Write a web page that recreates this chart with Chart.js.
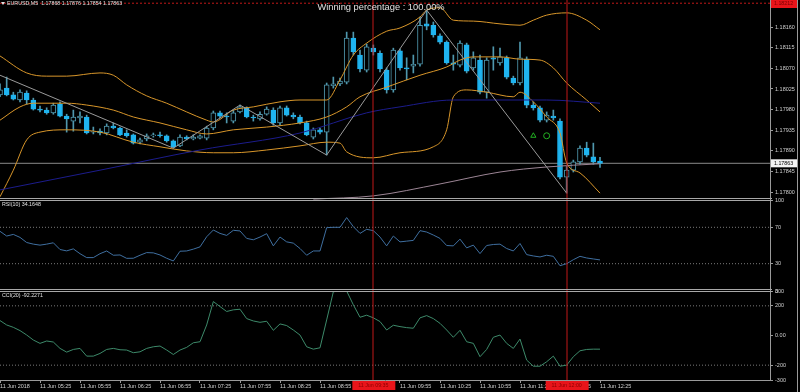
<!DOCTYPE html>
<html>
<head>
<meta charset="utf-8">
<script src="https://cdn.jsdelivr.net/npm/chart.js@4.4.0/dist/chart.umd.min.js"></script>
<style>
    html, body { margin: 0; padding: 0; background: #000; }
    #eurusdChart { display: block; }
</style>
</head>
<body>
<canvas id="eurusdChart" width="800" height="392"></canvas>
<script>
// EURUSD M5 bars, 11 Jun 2018 04:55 .. 12:25 (bar index 0..90)
const opens = [1.18012,1.18027,1.18012,1.18001,1.18016,1.18001,1.17981,1.17979,1.17973,1.17992,
    1.17966,1.17955,1.17962,1.17964,1.17931,1.17933,1.17929,1.17944,1.17940,1.17929,
    1.17925,1.17909,1.17916,1.17923,1.17925,1.17923,1.17912,1.17901,1.17920,1.17916,
    1.17918,1.17918,1.17940,1.17973,1.17966,1.17955,1.17975,1.17984,1.17964,1.17960,
    1.17970,1.17979,1.17951,1.17984,1.17968,1.17964,1.17951,1.17920,1.17936,1.17931,
    1.18032,1.18036,1.18040,1.18136,1.18099,1.18066,1.18114,1.18103,1.18066,1.18023,
    1.18108,1.18071,1.18075,1.18079,1.18167,1.18164,1.18141,1.18127,1.18082,1.18077,
    1.18121,1.18071,1.18088,1.18018,1.18093,1.18082,1.18093,1.18049,1.18038,1.18090,
    1.17990,1.17984,1.17957,1.17966,1.17955,1.17833,1.17848,1.17866,1.17896,1.17877,
    1.17868];
const highs = [1.18036,1.18051,1.18018,1.18023,1.18021,1.18005,1.17988,1.17984,1.17994,1.17997,
    1.17970,1.17979,1.17975,1.17968,1.17942,1.17938,1.17949,1.17951,1.17942,1.17936,
    1.17927,1.17918,1.17927,1.17929,1.17931,1.17925,1.17914,1.17925,1.17923,1.17925,
    1.17925,1.17944,1.17977,1.17977,1.17973,1.17979,1.17990,1.17986,1.17968,1.17975,
    1.17986,1.17984,1.17988,1.17988,1.17973,1.17968,1.17955,1.17940,1.17940,1.18038,
    1.18051,1.18049,1.18149,1.18149,1.18110,1.18123,1.18121,1.18108,1.18071,1.18114,
    1.18112,1.18093,1.18099,1.18182,1.18197,1.18171,1.18145,1.18130,1.18099,1.18130,
    1.18125,1.18106,1.18099,1.18093,1.18117,1.18114,1.18097,1.18053,1.18127,1.18095,
    1.17997,1.17988,1.17975,1.17979,1.17960,1.17857,1.17870,1.17901,1.17909,1.17907,
    1.17876];
const lows = [1.18008,1.18010,1.18001,1.17997,1.17992,1.17979,1.17975,1.17970,1.17970,1.17964,
    1.17931,1.17933,1.17951,1.17927,1.17927,1.17925,1.17925,1.17938,1.17923,1.17920,
    1.17905,1.17905,1.17912,1.17920,1.17920,1.17909,1.17896,1.17899,1.17914,1.17914,
    1.17916,1.17914,1.17936,1.17962,1.17951,1.17951,1.17973,1.17962,1.17955,1.17957,
    1.17968,1.17946,1.17946,1.17966,1.17960,1.17949,1.17923,1.17916,1.17927,1.17881,
    1.18027,1.18032,1.18036,1.18099,1.18062,1.18062,1.18099,1.18062,1.18016,1.18018,
    1.18066,1.18045,1.18060,1.18075,1.18154,1.18138,1.18123,1.18079,1.18066,1.18073,
    1.18060,1.18066,1.18014,1.18005,1.18066,1.18077,1.18047,1.18034,1.18034,1.17984,
    1.17979,1.17953,1.17953,1.17957,1.17829,1.17798,1.17844,1.17861,1.17877,1.17861,
    1.17854];
const closes = [1.18023,1.18012,1.18003,1.18018,1.18001,1.17981,1.17979,1.17973,1.17990,1.17966,
    1.17960,1.17964,1.17966,1.17929,1.17933,1.17929,1.17944,1.17940,1.17925,1.17923,
    1.17907,1.17914,1.17923,1.17925,1.17923,1.17912,1.17899,1.17920,1.17916,1.17920,
    1.17923,1.17940,1.17973,1.17966,1.17964,1.17973,1.17986,1.17964,1.17962,1.17970,
    1.17981,1.17951,1.17984,1.17968,1.17964,1.17951,1.17925,1.17936,1.17931,1.18034,
    1.18036,1.18042,1.18136,1.18106,1.18069,1.18117,1.18106,1.18069,1.18023,1.18110,
    1.18071,1.18069,1.18079,1.18164,1.18162,1.18143,1.18127,1.18082,1.18079,1.18125,
    1.18064,1.18093,1.18018,1.18088,1.18090,1.18095,1.18051,1.18038,1.18093,1.17990,
    1.17984,1.17957,1.17968,1.17962,1.17833,1.17848,1.17866,1.17896,1.17881,1.17866,
    1.17863];

// Bollinger bands at a few bars
const bbUpperBars = [0,4,7,10,15,17,19,22,25,28,31,32,35,38,42,45,49,51,53,55,58,60,63,64,66,68,71,75,78,80,82,85,88,90];
const bbUpper = [1.18097,1.18060,1.18053,1.18053,1.18060,1.18055,1.18034,1.18010,1.17994,1.17975,1.17957,1.17953,1.17979,1.17986,1.17997,1.18001,1.18001,1.18045,1.18099,1.18125,1.18151,1.18158,1.18182,1.18197,1.18202,1.18175,1.18173,1.18167,1.18164,1.18175,1.18186,1.18191,1.18175,1.18154];
const bbMiddleBars = [0,3,5,10,13,17,20,24,28,31,35,40,45,49,52,54,58,63,67,69,71,75,78,81,83,85,88,90];
const bbMiddle = [1.17957,1.17986,1.17994,1.17994,1.17990,1.17979,1.17964,1.17951,1.17936,1.17927,1.17936,1.17942,1.17951,1.17964,1.17986,1.18008,1.18029,1.18055,1.18073,1.18088,1.18095,1.18095,1.18090,1.18088,1.18071,1.18038,1.18001,1.17975];
const bbLowerBars = [0,2,4,6,10,15,20,24,28,32,35,40,45,49,51,52,56,60,65,67,68,70,73,77,78,80,82,84,85,87,90];
const bbLower = [1.17790,1.17848,1.17914,1.17931,1.17936,1.17931,1.17909,1.17899,1.17890,1.17886,1.17886,1.17892,1.17901,1.17909,1.17907,1.17888,1.17875,1.17886,1.17899,1.17936,1.18008,1.18023,1.18018,1.18008,1.18018,1.17997,1.17964,1.17929,1.17864,1.17842,1.17798];

// slow moving averages
const blueMaBars = [0,15,30,45,55,60,68,75,82,90];
const blueMa = [1.17805,1.17848,1.17892,1.17929,1.17973,1.17986,1.18001,1.18001,1.18001,1.17994];
const pinkMaBars = [47,56,66,75,82,90];
const pinkMa = [1.17785,1.17792,1.17818,1.17844,1.17855,1.17862];

// zigzag swing points
const zigzagBars = [0,26,36,49,64,85];
const zigzagPrices = [1.18055,1.17896,1.17990,1.17881,1.18197,1.17798];

// signal objects
const arrowBars = [80];
const arrowPrices = [1.17923];
const circleBars = [82];
const circlePrices = [1.17923];
const signalBars = [56, 85];
const signalTimes = ['11 Jun 09:35', '11 Jun 12:00'];
const alertPrice = 1.18212;

const rsiValues = [65.6,60.4,62.2,58.9,53.3,51.5,50.4,51.5,53.0,45.6,
    44.1,46.3,41.0,36.7,36.7,41.0,44.0,39.3,39.6,35.9,
    36.0,39.3,42.2,41.9,39.6,36.0,33.0,43.7,44.0,46.0,
    48.5,59.6,67.0,63.3,61.1,66.7,66.0,57.8,56.3,59.3,
    63.0,49.6,59.3,54.0,52.6,46.7,39.3,44.0,44.0,69.6,
    70.0,70.0,80.7,70.7,63.3,67.8,66.3,59.3,49.6,60.4,
    54.0,54.8,55.6,66.3,64.8,61.5,57.8,50.0,49.6,57.0,
    47.4,50.4,41.1,50.0,51.1,51.5,46.7,44.0,52.2,40.0,
    38.5,37.4,39.3,38.1,27.8,30.0,34.4,38.1,36.3,35.2,
    34.1648];
const cciValues = [100.6,71,55,33,3.4,-30.5,-53,-37,-44,-87,
    -112,-94,-87,-139,-139,-121,-94,-87,-96,-98,
    -116,-110,-87,-76,-71,-98,-128,-98,-80,-49,
    -42,71,229,195,162,173,177,114,98,89,
    96,35,78,67,37,3,-76,-92,-83,105,
    295,300,300,207,123,137,119,94,37,69,
    60,53,49,119,134,114,82,37,-12,35,
    -42,-53,-143,-94,-12,3,-53,-87,-24,-166,
    -207,-207,-177,-139,-207,-200,-143,-103,-94,-92,
    -92.2271];

const tickBars = [0,6,12,18,24,30,36,42,48,54,60,66,72,78,84,90];
const timeLabels = ['11 Jun 2018','11 Jun 05:25','11 Jun 05:55','11 Jun 06:25','11 Jun 06:55','11 Jun 07:25',
    '11 Jun 07:55','11 Jun 08:25','11 Jun 08:55','11 Jun 09:25','11 Jun 09:55','11 Jun 10:25',
    '11 Jun 10:55','11 Jun 11:25','11 Jun 11:55','11 Jun 12:25'];
const priceTicks = [1.17800,1.17845,1.17890,1.17935,1.17980,1.18025,1.18070,1.18115,1.18160];
const rsiTicks = [0,30,70,100];
const rsiLevels = [70,30];
const cciTicks = [-300,-200,0,200,300];
const cciLevels = [200,-200];

const barSlots = 115.5;
const priceMin = 1.17783;
const priceMax = 1.18219;

const bearColor = '#1fb4f0';
const edgeColor = '#4f97ad';
const signalColor = '#c01818';
const fontFamily = '"Liberation Sans", Arial, sans-serif';

function pairs(xs, ys) {
    return xs.map(function(x, i) { return {x: x, y: ys[i]}; });
}
function flatLine(value) {
    return [{x: 0, y: value}, {x: barSlots, y: value}];
}
function lineSet(data, color, axis, extra) {
    return Object.assign({
        type: 'line', data: data, yAxisID: axis, borderColor: color, borderWidth: 1,
        pointRadius: 0, pointHoverRadius: 0, fill: false, order: 2
    }, extra || {});
}

const wickData = opens.map(function(o, i) { return {x: i, y: [lows[i], highs[i]]}; });
const bodyData = opens.map(function(o, i) { return {x: i, y: [o, closes[i]]}; });
const bodyFill = opens.map(function(o, i) { return closes[i] < o ? bearColor : '#000'; });
const bodyEdge = opens.map(function(o, i) { return closes[i] < o ? bearColor : edgeColor; });
const lastClose = closes[closes.length - 1];

const datasets = [
    {type: 'bar', data: wickData, yAxisID: 'y', backgroundColor: edgeColor, barThickness: 1, grouped: false, order: 8},
    {type: 'bar', data: bodyData, yAxisID: 'y', backgroundColor: bodyFill, borderColor: bodyEdge, borderWidth: 1,
        borderSkipped: false, barThickness: 5, grouped: false, order: 7},
    lineSet(flatLine(lastClose), '#8a8a8a', 'y', {order: 10}),
    lineSet(flatLine(alertPrice), signalColor, 'y', {borderDash: [2, 2], order: 10}),
    lineSet(pairs(pinkMaBars, pinkMa), '#9c8595', 'y', {cubicInterpolationMode: 'monotone'}),
    lineSet(pairs(blueMaBars, blueMa), '#1c1c8c', 'y', {cubicInterpolationMode: 'monotone'}),
    lineSet(pairs(bbUpperBars, bbUpper), '#d8962a', 'y', {cubicInterpolationMode: 'monotone'}),
    lineSet(pairs(bbMiddleBars, bbMiddle), '#d8962a', 'y', {cubicInterpolationMode: 'monotone'}),
    lineSet(pairs(bbLowerBars, bbLower), '#d8962a', 'y', {cubicInterpolationMode: 'monotone'}),
    lineSet(pairs(zigzagBars, zigzagPrices), '#9a9a9a', 'y', {order: 1}),
    lineSet(pairs(arrowBars, arrowPrices), '#22b022', 'y', {showLine: false, pointRadius: 3, pointStyle: 'triangle',
        pointBorderColor: '#22b022', pointBackgroundColor: 'rgba(0,0,0,0)', pointBorderWidth: 1, order: 1}),
    lineSet(pairs(circleBars, circlePrices), '#22b022', 'y', {showLine: false, pointRadius: 3, pointStyle: 'circle',
        pointBorderColor: '#22b022', pointBackgroundColor: 'rgba(0,0,0,0)', pointBorderWidth: 1, order: 1}),
    lineSet(rsiValues.map(function(v, i) { return {x: i, y: v}; }), '#3f6fa0', 'yRsi')
];
rsiLevels.forEach(function(v) {
    datasets.push(lineSet(flatLine(v), '#7a7a7a', 'yRsi', {borderDash: [1, 2], order: 10}));
});
datasets.push(lineSet(cciValues.map(function(v, i) { return {x: i, y: v}; }), '#3d8a6a', 'yCci'));
cciLevels.forEach(function(v) {
    datasets.push(lineSet(flatLine(v), '#7a7a7a', 'yCci', {borderDash: [1, 2], order: 10}));
});

// texts, price boxes, separators and the two signal lines
const overlay = {
    id: 'overlay',
    afterDatasetsDraw: function(chart) {
        const ctx = chart.ctx, area = chart.chartArea, xs = chart.scales.x;
        ctx.save();
        ctx.strokeStyle = signalColor;
        ctx.lineWidth = 1;
        signalBars.forEach(function(b) {
            const px = Math.round(xs.getPixelForValue(b));
            ctx.beginPath(); ctx.moveTo(px, 0); ctx.lineTo(px, area.bottom); ctx.stroke();
        });
        ctx.restore();
    },
    afterDraw: function(chart) {
        const ctx = chart.ctx, area = chart.chartArea, s = chart.scales;
        ctx.save();
        ctx.strokeStyle = '#a8a8a8';
        ctx.lineWidth = 1;
        [s.yRsi.top, s.yCci.top].forEach(function(t) {
            [Math.round(t) - 1.5, Math.round(t) + 0.5].forEach(function(yy) {
                ctx.beginPath(); ctx.moveTo(0, yy); ctx.lineTo(area.right + 2, yy); ctx.stroke();
            });
        });
        ctx.strokeStyle = '#9a9a9a';
        ctx.beginPath(); ctx.moveTo(797.5, 0); ctx.lineTo(797.5, 392); ctx.stroke();

        ctx.textBaseline = 'middle';
        ctx.textAlign = 'left';
        ctx.fillStyle = '#e0e0e0';
        ctx.beginPath(); ctx.moveTo(1, 2); ctx.lineTo(5, 2); ctx.lineTo(3, 5); ctx.closePath(); ctx.fill();
        ctx.font = '5.3px ' + fontFamily;
        const n = closes.length - 1;
        ctx.fillText('EURUSD,M5  ' + [opens[n], highs[n], lows[n], closes[n]].map(function(v) { return v.toFixed(5); }).join(' '), 7, 4);
        ctx.fillText('RSI(10) ' + rsiValues[n].toFixed(4), 2, s.yRsi.top + 5);
        ctx.fillText('CCI(20) ' + cciValues[n].toFixed(4), 2, s.yCci.top + 5);

        ctx.font = '9.3px ' + fontFamily;
        ctx.textAlign = 'center';
        ctx.fillText('Winning percentage : 100.00%', 381, 7);

        ctx.font = '5.3px ' + fontFamily;
        ctx.textAlign = 'left';
        const alertY = s.y.getPixelForValue(alertPrice);
        ctx.fillStyle = '#e8141a';
        ctx.fillRect(771, Math.max(0, alertY - 4), 26, 8);
        ctx.fillStyle = '#7a0000';
        ctx.fillText(alertPrice.toFixed(5), 774, Math.max(4, alertY));
        const bidY = s.y.getPixelForValue(lastClose);
        ctx.fillStyle = '#f4f4f4';
        ctx.fillRect(771, bidY - 4, 26, 8);
        ctx.fillStyle = '#000';
        ctx.fillText(lastClose.toFixed(5), 774, bidY);

        ctx.textAlign = 'center';
        signalBars.forEach(function(b, k) {
            const px = s.x.getPixelForValue(b);
            ctx.fillStyle = '#e8141a';
            ctx.fillRect(px - 21, area.bottom + 1, 43, 9);
            ctx.fillStyle = '#8a0000';
            ctx.fillText(signalTimes[k], px, area.bottom + 5.5);
        });
        ctx.restore();
    }
};

function tickFont() { return {family: fontFamily, size: 5.5}; }
function rightAxis(weight, min, max, tickValues, format) {
    return {
        type: 'linear', position: 'right', stack: 'panes', stackWeight: weight, min: min, max: max,
        grid: {drawOnChartArea: false, drawTicks: true, tickLength: 3, tickColor: '#9a9a9a'},
        border: {display: true, color: '#9a9a9a'},
        ticks: {color: '#cfcfcf', font: tickFont(), padding: 2, autoSkip: false, callback: format},
        afterBuildTicks: function(scale) { scale.ticks = tickValues.map(function(v) { return {value: v}; }); },
        afterFit: function(scale) { scale.width = 30; scale.paddingTop = 0; scale.paddingBottom = 0; }
    };
}

var ctx = document.getElementById('eurusdChart').getContext('2d');
var chart = new Chart(ctx, {
    type: 'bar',
    data: {datasets: datasets},
    options: {
        responsive: false,
        animation: false,
        devicePixelRatio: 1,
        layout: {padding: 0, autoPadding: false},
        plugins: {legend: {display: false}, tooltip: {enabled: false}, title: {display: false}},
        scales: {
            x: {
                type: 'linear', min: 0, max: barSlots, offset: false,
                grid: {drawOnChartArea: false, drawTicks: true, tickLength: 3, tickColor: '#9a9a9a', offset: false},
                border: {display: true, color: '#9a9a9a'},
                ticks: {color: '#d0d0d0', font: tickFont(), align: 'start', padding: 0, maxRotation: 0, autoSkip: false,
                    callback: function(v, i) { return timeLabels[i]; }},
                afterBuildTicks: function(scale) { scale.ticks = tickBars.map(function(v) { return {value: v}; }); },
                afterFit: function(scale) { scale.height = 12; scale.paddingLeft = 0; scale.paddingRight = 0; }
            },
            y: rightAxis(200, priceMin, priceMax, priceTicks, function(v) { return v.toFixed(5); }),
            yRsi: rightAxis(91, 0, 100, rsiTicks, function(v) { return String(v); }),
            yCci: rightAxis(89, -300, 300, cciTicks, function(v) { return v === 0 ? '0.00' : String(v); })
        }
    },
    plugins: [overlay]
});
</script>
</body>
</html>
